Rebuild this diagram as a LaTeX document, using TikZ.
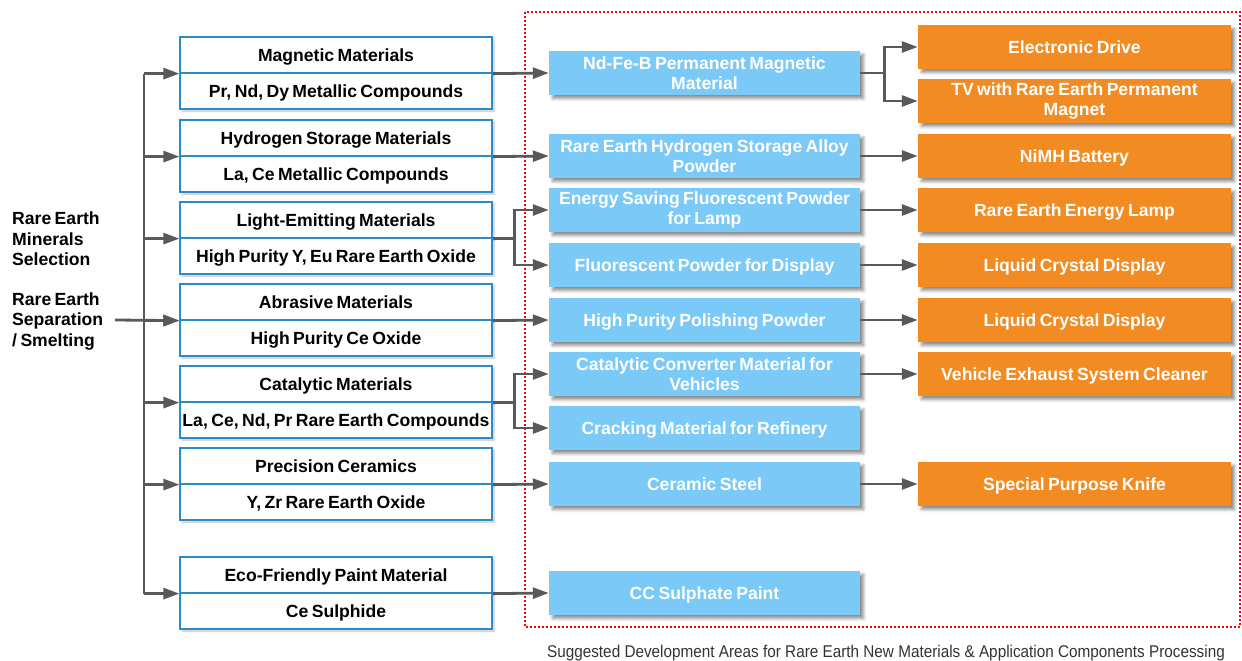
\documentclass[tikz,border=0pt]{standalone}
\usepackage{fontspec}
\setmainfont{Liberation Sans}[WordSpace=0.7]
\newfontfamily\capfont{Liberation Sans}[FakeStretch=0.9]
\usetikzlibrary{arrows.meta,shadows.blur}
\definecolor{matblue}{HTML}{2B8AC9}
\definecolor{prodblue}{HTML}{7BC9F7}
\definecolor{apporange}{HTML}{F28B22}
\definecolor{linegray}{HTML}{595959}
\definecolor{capgray}{HTML}{333333}
\begin{document}
\begin{tikzpicture}[x=1pt,y=-1pt,
  boxfont/.style={font=\fontsize{17.6}{20.5}\selectfont\bfseries},
  oneline/.style={text height=12.6pt, text depth=0pt},
  matbox/.style={boxfont, oneline, draw=matblue, line width=1.2pt, fill=white,
    minimum width=312pt, minimum height=36pt, inner sep=0pt,
    blur shadow={shadow xshift=2pt, shadow yshift=-2pt, shadow blur radius=2pt, shadow opacity=25}},
  prodbox/.style={boxfont, fill=prodblue, text=white, align=center,
    minimum width=311pt, minimum height=44pt, inner sep=0pt,
    blur shadow={shadow xshift=3.5pt, shadow yshift=-3.5pt, shadow blur radius=3pt, shadow opacity=45}},
  appbox/.style={prodbox, fill=apporange, minimum width=313pt},
  sidelabel/.style={boxfont, align=left, anchor=west, inner sep=0pt},
  ln/.style={draw=linegray, line width=2.8pt},
  arr/.style={ln, -{Triangle[length=16pt,width=11pt]}},
]
\useasboundingbox (0,0) rectangle (1242,661);

% suggested development area
\draw[draw=red, line width=1.6pt, dash pattern=on 1.6pt off 2.4pt] (525,12) rectangle (1240,627);
\node[text=capgray, font=\capfont\fontsize{17}{18}\selectfont] (cap) at (886,653)
  {Suggested Development Areas for Rare Earth New Materials \& Application Components Processing};

% source labels
\node[sidelabel] (minsel) at (12,239) {Rare Earth\\Minerals\\Selection};
\node[sidelabel] (sep) at (12,321) {Rare Earth\\Separation\\/ Smelting};

% material boxes (category / composition)
\node[matbox] (mag)  at (336,55)  {Magnetic Materials};
\node[matbox] (magc) at (336,91)  {Pr, Nd, Dy Metallic Compounds};
\node[matbox] (hyd)  at (336,138) {Hydrogen Storage Materials};
\node[matbox] (hydc) at (336,174) {La, Ce Metallic Compounds};
\node[matbox] (lig)  at (336,220) {Light-Emitting Materials};
\node[matbox] (ligc) at (336,256) {High Purity Y, Eu Rare Earth Oxide};
\node[matbox] (abr)  at (336,302) {Abrasive Materials};
\node[matbox] (abrc) at (336,338) {High Purity Ce Oxide};
\node[matbox] (cat)  at (336,384) {Catalytic Materials};
\node[matbox] (catc) at (336,420) {La, Ce, Nd, Pr Rare Earth Compounds};
\node[matbox] (cer)  at (336,466) {Precision Ceramics};
\node[matbox] (cerc) at (336,502) {Y, Zr Rare Earth Oxide};
\node[matbox] (eco)  at (336,575) {Eco-Friendly Paint Material};
\node[matbox] (ecoc) at (336,611) {Ce Sulphide};

% new material products
\node[prodbox] (ndfeb) at (704.5,73)  {Nd-Fe-B Permanent Magnetic\\Material};
\node[prodbox] (hsa)   at (704.5,156) {Rare Earth Hydrogen Storage Alloy\\Powder};
\node[prodbox] (esl)   at (704.5,210) {Energy Saving Fluorescent Powder\\for Lamp};
\node[prodbox, oneline] (fpd) at (704.5,265) {Fluorescent Powder for Display};
\node[prodbox, oneline] (hpp) at (704.5,320) {High Purity Polishing Powder};
\node[prodbox] (ccm)   at (704.5,374) {Catalytic Converter Material for\\Vehicles};
\node[prodbox, oneline] (crk) at (704.5,428) {Cracking Material for Refinery};
\node[prodbox, oneline] (cst) at (704.5,484) {Ceramic Steel};
\node[prodbox, oneline] (csp) at (704.5,593) {CC Sulphate Paint};

% applications
\node[appbox, oneline] (edrv) at (1074.5,47)  {Electronic Drive};
\node[appbox] (tv)   at (1074.5,101) {TV with Rare Earth Permanent\\Magnet};
\node[appbox, oneline] (nimh) at (1074.5,156) {NiMH Battery};
\node[appbox, oneline] (lamp) at (1074.5,210) {Rare Earth Energy Lamp};
\node[appbox, oneline] (lcda) at (1074.5,265) {Liquid Crystal Display};
\node[appbox, oneline] (lcdb) at (1074.5,320) {Liquid Crystal Display};
\node[appbox, oneline] (vex)  at (1074.5,374) {Vehicle Exhaust System Cleaner};
\node[appbox, oneline] (knf)  at (1074.5,484) {Special Purpose Knife};

% distribution trunk
\coordinate (trunk) at (144,0);
\coordinate (inp) at (115,320);
\draw[ln] (mag.south west -| trunk) -- (eco.south west -| trunk);
\foreach \b in {mag,hyd,lig,abr,cat,cer,eco}
  \draw[arr] (\b.south west -| trunk) -- (\b.south west);
\draw[arr] (inp) -- (abr.south west);

% materials to products
\draw[arr] (mag.south east) -- (ndfeb.west);
\draw[arr] (hyd.south east) -- (hsa.west);
\draw[arr] (lig.south east) -- ++(22,0) |- (esl.west);
\draw[arr] (lig.south east) -- ++(22,0) |- (fpd.west);
\draw[arr] (abr.south east) -- (hpp.west);
\draw[arr] (cat.south east) -- ++(22,0) |- (ccm.west);
\draw[arr] (cat.south east) -- ++(22,0) |- (crk.west);
\draw[arr] (cer.south east) -- (cst.west);
\draw[arr] (eco.south east) -- (csp.west);

% products to applications
\draw[arr] (ndfeb.east) -- ++(24,0) |- (edrv.west);
\draw[arr] (ndfeb.east) -- ++(24,0) |- (tv.west);
\draw[arr] (hsa.east) -- (nimh.west);
\draw[arr] (esl.east) -- (lamp.west);
\draw[arr] (fpd.east) -- (lcda.west);
\draw[arr] (hpp.east) -- (lcdb.west);
\draw[arr] (ccm.east) -- (vex.west);
\draw[arr] (cst.east) -- (knf.west);
\end{tikzpicture}
\end{document}
